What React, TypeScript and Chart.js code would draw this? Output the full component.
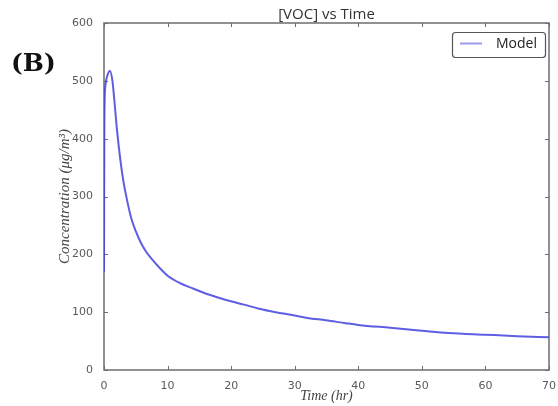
import React, { useEffect, useRef } from "react";
import { Chart, registerables } from "chart.js";

Chart.register(...registerables);

const timeHr = [
  0, 0.05, 0.2, 0.5, 0.94, 1.3, 1.6, 2.0, 2.5, 3.0, 3.6, 4.3, 5.0, 5.8, 6.6, 7.5, 8.8, 10, 12, 14,
  16.6, 19.2, 22, 24.4, 27, 29.6, 32, 34.9, 38, 40, 45, 50, 54.2, 60, 65, 70,
];
const vocConc = [
  170, 420, 490, 508, 517, 502, 470, 420, 370, 330, 295, 262, 240, 220, 205, 192, 176, 163, 150, 141,
  130, 121, 113, 106, 100, 95, 90, 86, 81, 78, 73, 68, 64, 61, 58.5, 56.5,
];
const xRange = [0, 70];
const xStep = 10;
const yRange = [0, 600];
const yStep = 100;

const chartTitle = "[VOC] vs Time";
const panelLabel = "(B)";
const seriesLabel = "Model";
const xTitle = "Time (hr)";
const yTitle = "Concentration (\u03BCg/m\u00B3)";

const LINE_COLOR = "rgba(66, 66, 222, 0.85)";
const LEGEND_LINE = "#9c9cec";
const FRAME = "#6e6e6e";

const framePlugin = {
  id: "frame",
  beforeDatasetsDraw(chart: any) {
    const { ctx, chartArea: a, scales } = chart;
    ctx.save();
    ctx.strokeStyle = FRAME;
    ctx.lineWidth = 1.5;
    ctx.strokeRect(a.left, a.top, a.right - a.left, a.bottom - a.top);
    ctx.lineWidth = 1;
    const L = 4;
    ctx.beginPath();
    scales.x.ticks.forEach((t: any) => {
      const px = Math.round(scales.x.getPixelForValue(t.value)) + 0.5;
      ctx.moveTo(px, a.bottom);
      ctx.lineTo(px, a.bottom - L);
      ctx.moveTo(px, a.top);
      ctx.lineTo(px, a.top + L);
    });
    scales.y.ticks.forEach((t: any) => {
      const py = Math.round(scales.y.getPixelForValue(t.value)) + 0.5;
      ctx.moveTo(a.left, py);
      ctx.lineTo(a.left + L, py);
      ctx.moveTo(a.right, py);
      ctx.lineTo(a.right - L, py);
    });
    ctx.stroke();
    ctx.restore();
  },
  afterDraw(chart: any) {
    const { ctx, chartArea: a } = chart;
    ctx.save();
    // title
    ctx.fillStyle = "#333";
    ctx.font = "15px 'Open Sans'";
    ctx.textAlign = "center";
    ctx.textBaseline = "middle";
    ctx.fillText(chartTitle, (a.left + a.right) / 2, 15);
    // panel label
    ctx.fillStyle = "#111";
    ctx.font = "bold 25px 'DejaVu Serif'";
    ctx.textAlign = "left";
    ctx.fillText(panelLabel, 11, 64);
    // legend
    const ds = chart.data.datasets[0];
    const bx = 452, by = 32, bw = 93, bh = 25;
    ctx.fillStyle = "#fff";
    ctx.strokeStyle = "#555";
    ctx.lineWidth = 1.2;
    ctx.beginPath();
    (ctx as any).roundRect(bx + 0.5, by + 0.5, bw, bh, 3);
    ctx.fill();
    ctx.stroke();
    ctx.strokeStyle = LEGEND_LINE;
    ctx.lineWidth = 2;
    ctx.beginPath();
    ctx.moveTo(460, 43.5);
    ctx.lineTo(482, 43.5);
    ctx.stroke();
    ctx.fillStyle = "#222";
    ctx.font = "14px 'Open Sans'";
    ctx.textAlign = "left";
    ctx.textBaseline = "middle";
    ctx.fillText(ds.label, 496, 44);
    ctx.restore();
  },
};

export default function App() {
  const ref = useRef<HTMLCanvasElement | null>(null);
  useEffect(() => {
    if (!ref.current) return;
    const tickFont = { family: "'DejaVu Sans'", size: 11 };
    const chart = new Chart(ref.current, {
      type: "line",
      data: {
        datasets: [
          {
            label: seriesLabel,
            data: timeHr.map((t, i) => ({ x: t, y: vocConc[i] })),
            borderColor: LINE_COLOR,
            borderWidth: 2,
            pointRadius: 0,
            cubicInterpolationMode: "monotone",
            fill: false,
          },
        ],
      },
      options: {
        responsive: false,
        animation: false,
        devicePixelRatio: 1,
        layout: { padding: { left: 0, right: 7, top: 23, bottom: 0 } },
        plugins: { legend: { display: false }, tooltip: { enabled: false }, title: { display: false } },
        scales: {
          x: {
            type: "linear",
            min: xRange[0],
            max: xRange[1],
            ticks: { stepSize: xStep, font: tickFont, color: "#5a5a5a", padding: 2, maxRotation: 0 },
            grid: { display: false },
            border: { display: false },
            title: {
              display: true,
              text: xTitle,
              font: { family: "'Liberation Serif'", size: 14, style: "italic" },
              color: "#444",
              padding: { top: 0, bottom: 1 },
            },
            afterFit: (s: any) => { s.height = 36; },
          },
          y: {
            type: "linear",
            min: yRange[0],
            max: yRange[1],
            ticks: { stepSize: yStep, font: tickFont, color: "#5a5a5a", padding: 3 },
            grid: { display: false },
            border: { display: false },
            title: {
              display: true,
              text: yTitle,
              font: { family: "'Liberation Serif'", size: 15, style: "italic" },
              color: "#444",
              padding: { top: 56, bottom: 0 },
            },
            afterFit: (s: any) => { s.width = 104; },
          },
        },
      },
      plugins: [framePlugin],
    });
    return () => chart.destroy();
  }, []);
  return (
    <div style={{ position: "absolute", left: 0, top: 0, width: 558, height: 406, background: "#fff" }}>
      <canvas ref={ref} width={558} height={406} />
    </div>
  );
}
